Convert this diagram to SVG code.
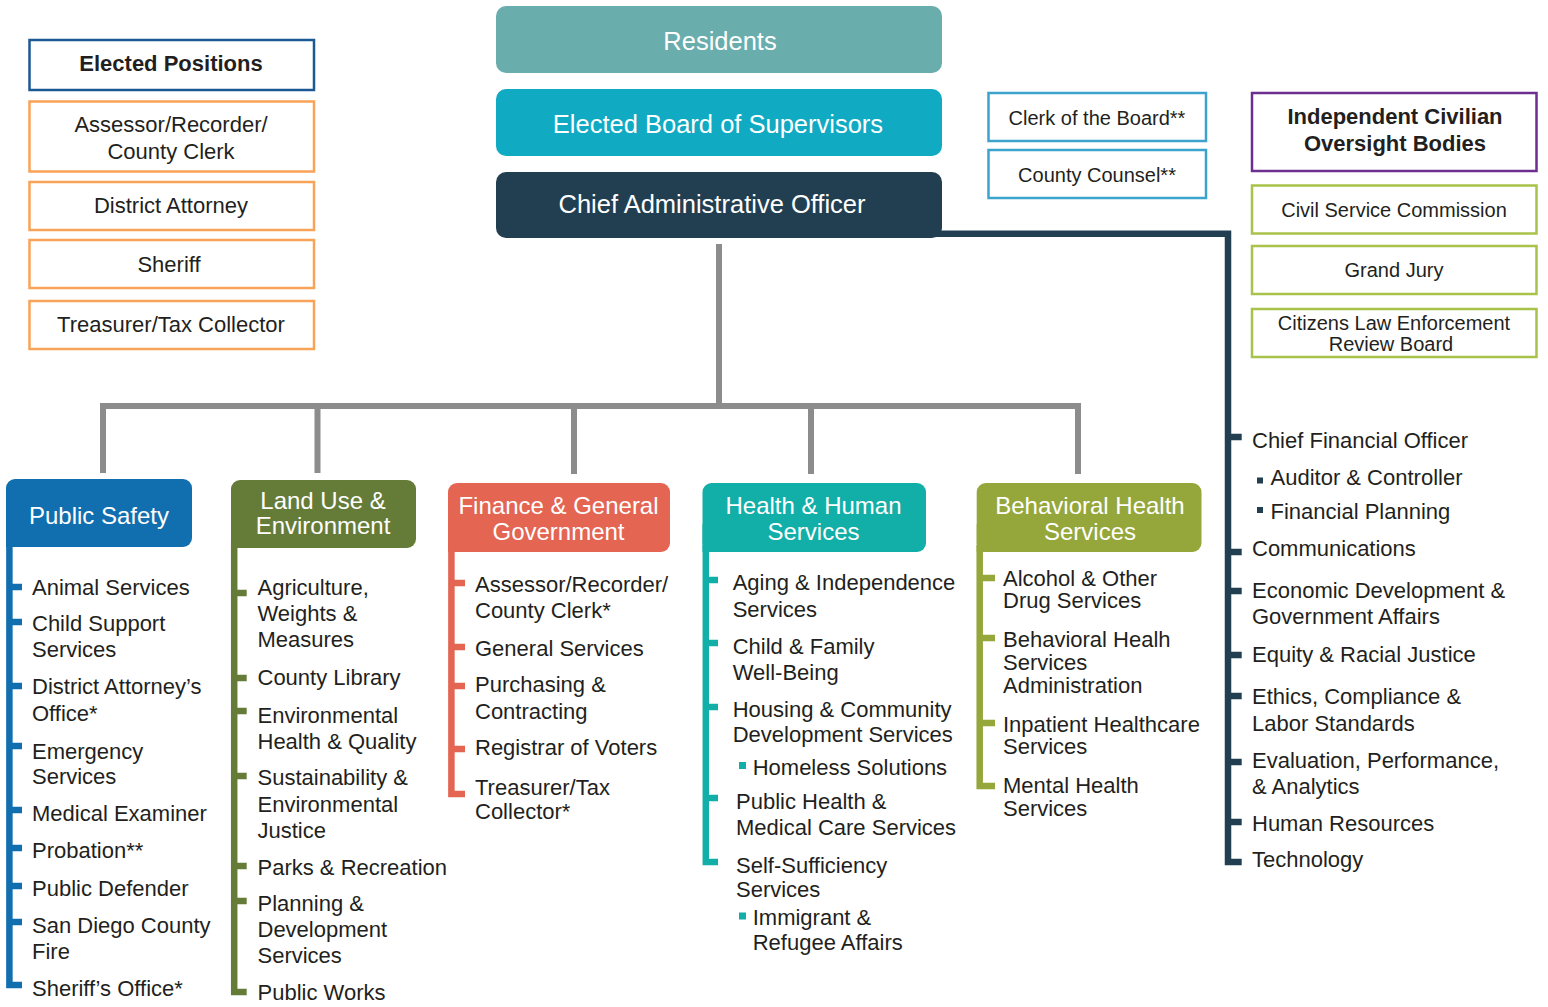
<svg xmlns="http://www.w3.org/2000/svg" width="1548" height="1007" viewBox="0 0 1548 1007">
<style>
text{font-family:"Liberation Sans",Arial,Helvetica,sans-serif;}
.it{font-size:22px;fill:#231f20;}
.hd{font-size:24px;fill:#ffffff;text-anchor:middle;}
.top{font-size:25.5px;fill:#ffffff;text-anchor:middle;}
.bx{font-size:22px;fill:#231f20;text-anchor:middle;}
.bxs{font-size:20px;fill:#231f20;text-anchor:middle;}
.b{font-weight:bold;}
.box{fill:#ffffff;stroke-width:2.5;}
.gray{stroke:#8c8c8c;stroke-width:6;fill:none;}
.bar{fill:none;stroke-width:6.5;stroke-linejoin:miter;}
</style>
<rect x="0" y="0" width="1548" height="1007" fill="#ffffff"/>

<g id="connectors">
  <path class="gray" d="M719 244 V406 M100 406 H1081 M103 403 V473 M317.5 403 V473 M574 403 V474 M811 403 V474 M1078 403 V474"/>
  <path class="bar" stroke="#223f51" d="M930 233.7 H1228 V862 H1241.7 M1228 437 H1241.7 M1228 552 H1241.7 M1228 591 H1241.7 M1228 655 H1241.7 M1228 696 H1241.7 M1228 762 H1241.7 M1228 822 H1241.7"/>
</g>

<g id="residents">
  <rect x="496" y="6" width="446" height="67" rx="10" fill="#69adad"/>
  <text class="top" x="720" y="50">Residents</text>
</g>
<g id="board-of-supervisors">
  <rect x="496" y="89" width="446" height="67" rx="10" fill="#10aac3"/>
  <text class="top" x="718" y="133">Elected Board of Supervisors</text>
</g>
<g id="cao">
  <rect x="496" y="172" width="446" height="66" rx="10" fill="#223f51"/>
  <text class="top" x="712" y="213">Chief Administrative Officer</text>
</g>

<g id="elected-positions">
  <rect class="box" x="29.5" y="40" width="284.5" height="50" stroke="#1c5894"/>
  <text class="bx b" x="171" y="71">Elected Positions</text>
</g>
<g id="assessor">
  <rect class="box" x="29.5" y="101.5" width="284.5" height="70" stroke="#f8a358"/>
  <text class="bx" x="171" y="132">Assessor/Recorder/</text>
  <text class="bx" x="171" y="159">County Clerk</text>
</g>
<g id="district-attorney">
  <rect class="box" x="29.5" y="182" width="284.5" height="48" stroke="#f8a358"/>
  <text class="bx" x="171" y="213">District Attorney</text>
</g>
<g id="sheriff">
  <rect class="box" x="29.5" y="240" width="284.5" height="48" stroke="#f8a358"/>
  <text class="bx" x="169" y="272">Sheriff</text>
</g>
<g id="treasurer">
  <rect class="box" x="29.5" y="301" width="284.5" height="48" stroke="#f8a358"/>
  <text class="bx" x="171" y="332">Treasurer/Tax Collector</text>
</g>

<g id="clerk-of-board">
  <rect class="box" x="988.5" y="93" width="217.5" height="48" stroke="#3ba3cc"/>
  <text class="bxs" x="1097" y="125">Clerk of the Board**</text>
</g>
<g id="county-counsel">
  <rect class="box" x="988.5" y="150" width="217.5" height="48" stroke="#3ba3cc"/>
  <text class="bxs" x="1097" y="182">County Counsel**</text>
</g>

<g id="oversight-bodies">
  <rect class="box" x="1252" y="93" width="284.5" height="78" stroke="#6c2f8f"/>
  <text class="bx b" x="1395" y="124">Independent Civilian</text>
  <text class="bx b" x="1395" y="151">Oversight Bodies</text>
</g>
<g id="civil-service">
  <rect class="box" x="1252" y="185.5" width="284.5" height="48" stroke="#a8c24a"/>
  <text class="bxs" x="1394" y="217">Civil Service Commission</text>
</g>
<g id="grand-jury">
  <rect class="box" x="1252" y="246" width="284.5" height="48" stroke="#a8c24a"/>
  <text class="bxs" x="1394" y="277">Grand Jury</text>
</g>
<g id="clerb">
  <rect class="box" x="1252" y="309" width="284.5" height="48" stroke="#a8c24a"/>
  <text class="bxs" x="1394" y="329.5">Citizens Law Enforcement</text>
  <text class="bxs" x="1391" y="350.5">Review Board</text>
</g>

<g id="public-safety">
  <rect x="6" y="479" width="186" height="68" rx="9" fill="#116faf"/>
  <rect x="6" y="520" width="20" height="27" fill="#116faf"/>
  <path class="bar" stroke="#116faf" d="M9.4 540 V985 H22 M9.4 587 H22 M9.4 622 H22 M9.4 686 H22 M9.4 746 H22 M9.4 810 H22 M9.4 848 H22 M9.4 886 H22 M9.4 922 H22"/>
  <text class="hd" x="99" y="524">Public Safety</text>
  <text class="it" x="32" y="595">Animal Services</text>
  <text class="it" x="32" y="631">Child Support</text>
  <text class="it" x="32" y="657">Services</text>
  <text class="it" x="32" y="694">District Attorney’s</text>
  <text class="it" x="32" y="721">Office*</text>
  <text class="it" x="32" y="759">Emergency</text>
  <text class="it" x="32" y="784">Services</text>
  <text class="it" x="32" y="821">Medical Examiner</text>
  <text class="it" x="32" y="858">Probation**</text>
  <text class="it" x="32" y="896">Public Defender</text>
  <text class="it" x="32" y="933">San Diego County</text>
  <text class="it" x="32" y="959">Fire</text>
  <text class="it" x="32" y="996">Sheriff’s Office*</text>
</g>

<g id="land-use">
  <rect x="231" y="480" width="185" height="68" rx="9" fill="#657c38"/>
  <rect x="231" y="520" width="20" height="28" fill="#657c38"/>
  <path class="bar" stroke="#657c38" d="M234.2 540 V992 H246.7 M234.2 593 H246.7 M234.2 678 H246.7 M234.2 711 H246.7 M234.2 776 H246.7 M234.2 866 H246.7 M234.2 901 H246.7"/>
  <text class="hd" x="323" y="509">Land Use &amp;</text>
  <text class="hd" x="323" y="534">Environment</text>
  <text class="it" x="257.5" y="595">Agriculture,</text>
  <text class="it" x="257.5" y="621">Weights &amp;</text>
  <text class="it" x="257.5" y="647">Measures</text>
  <text class="it" x="257.5" y="685">County Library</text>
  <text class="it" x="257.5" y="723">Environmental</text>
  <text class="it" x="257.5" y="749">Health &amp; Quality</text>
  <text class="it" x="257.5" y="785">Sustainability &amp;</text>
  <text class="it" x="257.5" y="812">Environmental</text>
  <text class="it" x="257.5" y="838">Justice</text>
  <text class="it" x="257.5" y="875">Parks &amp; Recreation</text>
  <text class="it" x="257.5" y="911">Planning &amp;</text>
  <text class="it" x="257.5" y="937">Development</text>
  <text class="it" x="257.5" y="963">Services</text>
  <text class="it" x="257.5" y="1000">Public Works</text>
</g>

<g id="finance">
  <rect x="448" y="483" width="222" height="69" rx="9" fill="#e36552"/>
  <rect x="448" y="524" width="20" height="28" fill="#e36552"/>
  <path class="bar" stroke="#e36552" d="M451.4 545 V794 H465 M451.4 583 H465 M451.4 647 H465 M451.4 686 H465 M451.4 749 H465"/>
  <text class="hd" x="558.5" y="514">Finance &amp; General</text>
  <text class="hd" x="558.5" y="540">Government</text>
  <text class="it" x="475" y="592">Assessor/Recorder/</text>
  <text class="it" x="475" y="618">County Clerk*</text>
  <text class="it" x="475" y="656">General Services</text>
  <text class="it" x="475" y="692">Purchasing &amp;</text>
  <text class="it" x="475" y="719">Contracting</text>
  <text class="it" x="475" y="755">Registrar of Voters</text>
  <text class="it" x="475" y="795">Treasurer/Tax</text>
  <text class="it" x="475" y="819">Collector*</text>
</g>

<g id="health-human-services">
  <rect x="702.5" y="483" width="223.5" height="69" rx="9" fill="#12aea8"/>
  <rect x="702.5" y="524" width="20" height="28" fill="#12aea8"/>
  <path class="bar" stroke="#12aea8" d="M705.8 545 V862 H718 M705.8 580 H718 M705.8 643 H718 M705.8 707 H718 M705.8 798 H718"/>
  <rect x="739" y="762" width="7" height="7" fill="#12aea8"/>
  <rect x="739" y="912.5" width="7" height="7" fill="#12aea8"/>
  <text class="hd" x="813.5" y="514">Health &amp; Human</text>
  <text class="hd" x="813.5" y="540">Services</text>
  <text class="it" x="732.7" y="590">Aging &amp; Independence</text>
  <text class="it" x="732.7" y="617">Services</text>
  <text class="it" x="732.7" y="654">Child &amp; Family</text>
  <text class="it" x="732.7" y="680">Well-Being</text>
  <text class="it" x="732.7" y="717">Housing &amp; Community</text>
  <text class="it" x="732.7" y="742">Development Services</text>
  <text class="it" x="752.7" y="775">Homeless Solutions</text>
  <text class="it" x="736" y="809">Public Health &amp;</text>
  <text class="it" x="736" y="835">Medical Care Services</text>
  <text class="it" x="736" y="873">Self-Sufficiency</text>
  <text class="it" x="736" y="897">Services</text>
  <text class="it" x="752.7" y="925">Immigrant &amp;</text>
  <text class="it" x="752.7" y="950">Refugee Affairs</text>
</g>

<g id="behavioral-health">
  <rect x="976.7" y="483" width="224.8" height="69" rx="9" fill="#95a73b"/>
  <rect x="976.7" y="524" width="20" height="28" fill="#95a73b"/>
  <path class="bar" stroke="#95a73b" d="M979.7 545 V786 H995 M979.7 578 H995 M979.7 638 H995 M979.7 723 H995"/>
  <text class="hd" x="1090" y="514">Behavioral Health</text>
  <text class="hd" x="1090" y="540">Services</text>
  <text class="it" x="1003" y="586">Alcohol &amp; Other</text>
  <text class="it" x="1003" y="608">Drug Services</text>
  <text class="it" x="1003" y="647">Behavioral Healh</text>
  <text class="it" x="1003" y="670">Services</text>
  <text class="it" x="1003" y="693">Administration</text>
  <text class="it" x="1003" y="732">Inpatient Healthcare</text>
  <text class="it" x="1003" y="754">Services</text>
  <text class="it" x="1003" y="793">Mental Health</text>
  <text class="it" x="1003" y="816">Services</text>
</g>

<g id="cao-offices">
  <rect x="1257" y="477.5" width="6" height="6" fill="#223f51"/>
  <rect x="1257" y="507" width="6" height="6" fill="#223f51"/>
  <text class="it" x="1252" y="448">Chief Financial Officer</text>
  <text class="it" x="1270.5" y="485">Auditor &amp; Controller</text>
  <text class="it" x="1270.5" y="519">Financial Planning</text>
  <text class="it" x="1252" y="556">Communications</text>
  <text class="it" x="1252" y="598">Economic Development &amp;</text>
  <text class="it" x="1252" y="624">Government Affairs</text>
  <text class="it" x="1252" y="662">Equity &amp; Racial Justice</text>
  <text class="it" x="1252" y="704">Ethics, Compliance &amp;</text>
  <text class="it" x="1252" y="731">Labor Standards</text>
  <text class="it" x="1252" y="768">Evaluation, Performance,</text>
  <text class="it" x="1252" y="794">&amp; Analytics</text>
  <text class="it" x="1252" y="831">Human Resources</text>
  <text class="it" x="1252" y="867">Technology</text>
</g>
</svg>
